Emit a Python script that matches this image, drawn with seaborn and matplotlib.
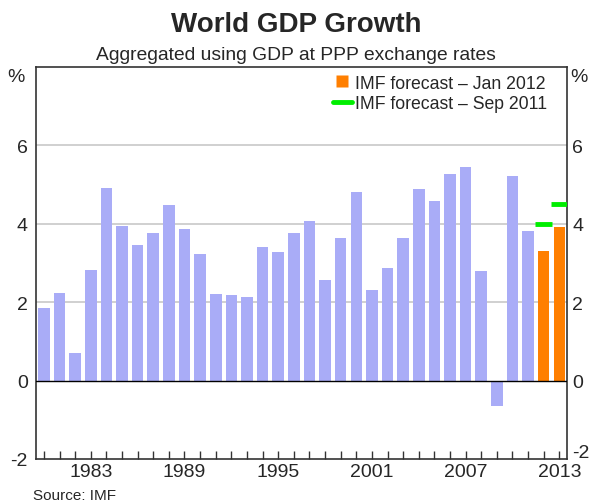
import matplotlib
matplotlib.use("Agg")
import matplotlib.pyplot as plt
import matplotlib.transforms as mtransforms
import seaborn as sns
import pandas as pd
from matplotlib.lines import Line2D

years = list(range(1980, 2014))
growth = [1.85, 2.23, 0.70, 2.82, 4.91, 3.94, 3.45, 3.76, 4.47, 3.86,
          3.23, 2.21, 2.18, 2.13, 3.40, 3.28, 3.76, 4.07, 2.56, 3.63,
          4.80, 2.31, 2.87, 3.63, 4.88, 4.58, 5.26, 5.44, 2.79, -0.66,
          5.21, 3.81, 3.30, 3.91]
series = ["Actual"] * 32 + ["IMF forecast – Jan 2012"] * 2
sep_years = [2012, 2013]
sep_values = [4.0, 4.51]
tick_label_years = [1983, 1989, 1995, 2001, 2007, 2013]
yticks = [-2, 0, 2, 4, 6]

df = pd.DataFrame({"year": years, "growth": growth, "series": series})

sns.set_style("white")
plt.rcParams["font.family"] = ["Liberation Sans", "DejaVu Sans"]

fig = plt.figure(figsize=(5.92, 5.02), dpi=100)
ax = fig.add_axes([0.061, 0.0837, 0.897, 0.7808])

palette = {"Actual": "#A9ACF7", "IMF forecast – Jan 2012": "#FF7F00"}
sns.barplot(data=df, x="year", y="growth", hue="series", palette=palette,
            native_scale=True, dodge=False, width=0.74, saturation=1,
            legend=False, ax=ax, edgecolor="none")

ax.hlines(sep_values, [y - 0.55 for y in sep_years], [y + 0.55 for y in sep_years],
          colors="#00EE00", linewidth=3.5, zorder=5, clip_on=True)

ax.set_xlim(1979.5, 2013.5)
ax.set_ylim(-2, 8)
for g in [2, 4, 6]:
    ax.axhline(g, color="#C8C8C8", linewidth=1.2, zorder=0)
ax.axhline(0, color="black", linewidth=1.0, zorder=4)

ax.set_xticks(years)
ax.set_xticklabels([str(y) if y in tick_label_years else "" for y in years])
ax.tick_params(axis="x", direction="in", length=6, width=1, color="#333333",
               labelsize=14, pad=3, bottom=True)
ax.set_yticks(yticks)
ax.set_yticklabels([str(v) for v in yticks])
ax.tick_params(axis="y", length=0, labelsize=14, labelleft=True,
               labelright=True, pad=6)
ax.set_xlabel("")
ax.set_ylabel("")
for s in ax.spines.values():
    s.set_color("#333333")
    s.set_linewidth(1.2)
    s.set_visible(True)

# right-hand labels sit a little closer to the frame; "-2" lifted clear of "2013"
for tick in ax.yaxis.get_major_ticks():
    lab = tick.label2
    dy = 8 / 100 if tick.get_loc() == -2 else 0
    lab.set_transform(lab.get_transform() +
                      mtransforms.ScaledTranslation(-3 / 100, dy, fig.dpi_scale_trans))

ax.text(-0.022, 0.975, "%", transform=ax.transAxes, ha="right", va="center", fontsize=14)
ax.text(1.006, 0.975, "%", transform=ax.transAxes, ha="left", va="center", fontsize=14)

handles = [Line2D([0], [0], color="none", marker="s", markersize=8,
                  markerfacecolor="#FF7F00", markeredgecolor="none",
                  label="IMF forecast – Jan 2012"),
           Line2D([0], [0], color="#00EE00", linewidth=3.5, label="IMF forecast – Sep 2011")]
ax.legend(handles=handles, loc="upper right", bbox_to_anchor=(0.985, 1.012),
          frameon=False, fontsize=12.7, handlelength=1.1, handletextpad=0.15,
          labelspacing=0.2, borderaxespad=0.3)

fig.text(0.5, 0.950, "World GDP Growth", ha="center", va="center",
         fontsize=20, fontweight="bold")
fig.text(0.5, 0.890, "Aggregated using GDP at PPP exchange rates", ha="center",
         va="center", fontsize=13.9)
fig.text(0.056, 0.012, "Source: IMF", ha="left", va="center", fontsize=11)

fig.savefig("out.png", dpi=100)
